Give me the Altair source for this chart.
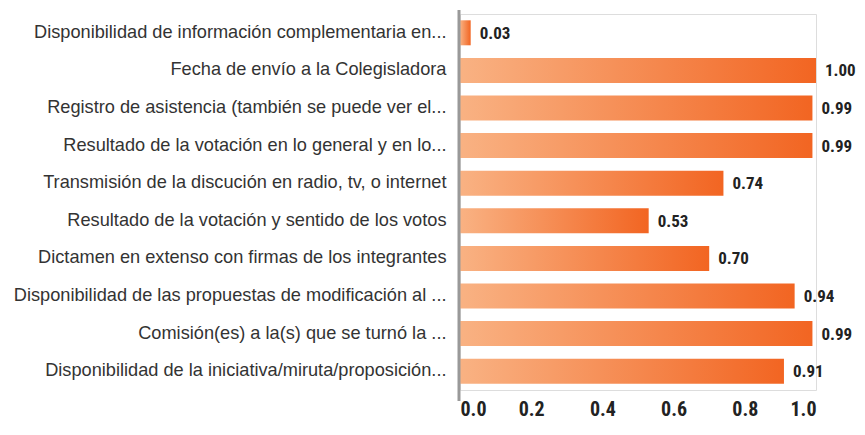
import altair as alt
import pandas as pd

categories = [
    "Disponibilidad de información complementaria en...",
    "Fecha de envío a la Colegisladora",
    "Registro de asistencia (también se puede ver el...",
    "Resultado de la votación en lo general y en lo...",
    "Transmisión de la discución en radio, tv, o internet",
    "Resultado de la votación y sentido de los votos",
    "Dictamen en extenso con firmas de los integrantes",
    "Disponibilidad de las propuestas de modificación al ...",
    "Comisión(es) a la(s) que se turnó la ...",
    "Disponibilidad de la iniciativa/miruta/proposición...",
]
values = [0.03, 1.00, 0.99, 0.99, 0.74, 0.53, 0.70, 0.94, 0.99, 0.91]

df = pd.DataFrame({"cat": categories, "val": values})

W, H = 356, 376
NUMFONT = "Noto Sans ExtraCondensed, Noto Sans Condensed, Roboto Condensed, Roboto"

y = alt.Y("cat:N", sort=categories, title=None,
          scale=alt.Scale(paddingInner=0.335, paddingOuter=0.1675),
          axis=alt.Axis(domain=False, ticks=False, labelFont="Liberation Sans",
                        labelFontSize=18.2, labelColor="#333333", labelPadding=14,
                        labelLimit=600))
x = alt.X("val:Q", title=None, scale=alt.Scale(domain=[0, 1], nice=False),
          axis=alt.Axis(values=[0, 0.2, 0.4, 0.6, 0.8, 1.0], format=".1f",
                        domain=False, ticks=False, grid=False, labelFont=NUMFONT,
                        labelFontWeight="bold", labelFontSize=20, labelColor="#222222",
                        labelPadding=9))

grad = alt.Gradient(gradient="linear", x1=0, x2=1, y1=0, y2=0,
                    stops=[alt.GradientStop(color="#F9B283", offset=0),
                           alt.GradientStop(color="#F26522", offset=1)])

bars = alt.Chart(df).mark_bar(color=grad).encode(x=x, y=y)
labels = alt.Chart(df).mark_text(align="left", baseline="middle", dx=9, dy=1,
                                 font=NUMFONT, fontWeight="bold", fontSize=17,
                                 color="#222222").encode(
    x="val:Q", y=alt.Y("cat:N", sort=categories), text=alt.Text("val:Q", format=".2f"))
rule = alt.Chart(pd.DataFrame({"z": [0]})).mark_rule(
    color="#999999", strokeWidth=3, xOffset=-1).encode(
    x="z:Q", y=alt.value(-4), y2=alt.value(H + 11))

chart = alt.layer(bars, rule, labels).properties(
    width=W, height=H,
    autosize=alt.AutoSizeParams(type="none"),
    padding={"left": 452, "top": 6, "right": 41, "bottom": 29},
).configure_view(stroke=None).configure(background="white")

chart.save("out.html", embed_options={"renderer": "svg", "actions": False})
